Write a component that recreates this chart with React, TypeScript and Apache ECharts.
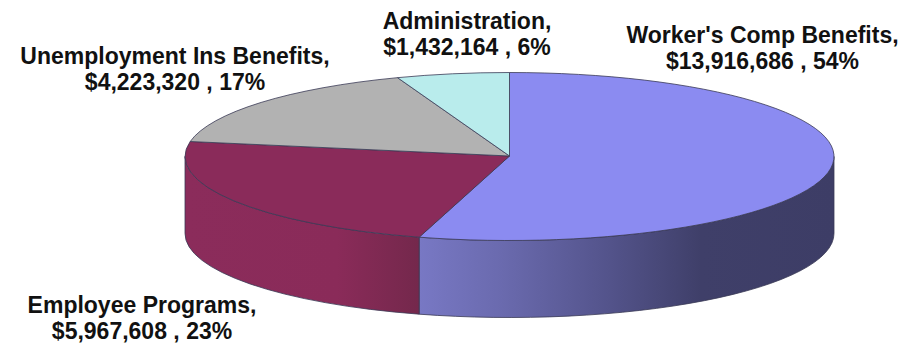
import React, { useEffect, useRef } from "react";
import * as echarts from "echarts";

// Expenditure categories, clockwise from twelve o'clock
const categories = [
  "Worker's Comp Benefits",
  "Employee Programs",
  "Unemployment Ins Benefits",
  "Administration",
];
const amounts = [13916686, 5967608, 4223320, 1432164];
const topColors = ["#8b8bf1", "#8a2b5a", "#b2b2b2", "#b9ecec"];

// Horizontal shading of the visible rim, one set of stops per slice
const rimStops: ({ offset: number; color: string }[] | null)[] = [
  [
    { offset: 0, color: "#7878c4" },
    { offset: 0.2, color: "#6a6aae" },
    { offset: 0.45, color: "#54548c" },
    { offset: 0.68, color: "#3f3f69" },
    { offset: 1, color: "#3d3d66" },
  ],
  [
    { offset: 0, color: "#8b2c5b" },
    { offset: 0.65, color: "#8a2b59" },
    { offset: 1, color: "#74284c" },
  ],
  null,
  null,
];

// Label centres, in the same order as the categories
const labelCentres = [
  [762.5, 48],
  [142, 318],
  [175, 69],
  [467, 34],
];

const CX = 509.5;
const CY = 156.5;
const RX = 324.5;
const RY = 84;
const DEPTH = 77;
const TAU = Math.PI * 2;

const total = amounts.reduce((a, b) => a + b, 0);
const spans = amounts.map((_, i) => {
  const before = amounts.slice(0, i).reduce((a, b) => a + b, 0);
  return [(before / total) * TAU, ((before + amounts[i]) / total) * TAU];
});

// Point on the pie's rim, angle measured clockwise from the top
const rim = (t: number, dy = 0): [number, number] => [
  CX + RX * Math.sin(t),
  CY - RY * Math.cos(t) + dy,
];

const topPath = (t0: number, t1: number) => {
  const [ax, ay] = rim(t0);
  const [bx, by] = rim(t1);
  const large = t1 - t0 > Math.PI ? 1 : 0;
  return `M${CX} ${CY - 0.5}L${ax} ${ay}A${RX} ${RY} 0 ${large} 1 ${bx} ${by}Z`;
};

// The wall under a slice is only visible on the near half of the ellipse
const sidePath = (t0: number, t1: number) => {
  const from = Math.max(t0, Math.PI / 2);
  const to = Math.min(t1, (Math.PI * 3) / 2);
  if (to <= from) return null;
  const [ax, ay] = rim(from);
  const [bx, by] = rim(to);
  const [cx, cy] = rim(to, DEPTH);
  const [dx, dy] = rim(from, DEPTH);
  return {
    d: `M${ax} ${ay}A${RX} ${RY} 0 0 1 ${bx} ${by}L${cx} ${cy}A${RX} ${RY} 0 0 0 ${dx} ${dy}Z`,
    x0: Math.min(ax, bx),
    x1: Math.max(ax, bx),
  };
};

const labelText = (i: number) =>
  `${categories[i]},\n$${amounts[i].toLocaleString("en-US")} , ${Math.round(
    (amounts[i] / total) * 100
  )}%`;

const outline = { stroke: "#3a3a55", lineWidth: 0.8, opacity: 1 };

export default function App() {
  const ref = useRef<HTMLDivElement>(null);

  useEffect(() => {
    const chart = echarts.init(ref.current!, null, { renderer: "svg" });
    chart.setOption({
      animation: false,
      backgroundColor: "#ffffff",
      series: [
        {
          type: "custom",
          coordinateSystem: "none",
          silent: true,
          z: 1,
          data: amounts,
          renderItem: (params: any) => {
            const i = params.dataIndex;
            const side = sidePath(spans[i][0], spans[i][1]);
            const stops = rimStops[i];
            if (!side || !stops) return { type: "group", children: [] };
            return {
              type: "path",
              shape: { pathData: side.d },
              style: {
                fill: new echarts.graphic.LinearGradient(
                  side.x0, 0, side.x1, 0, stops, true
                ),
                ...outline,
              },
            };
          },
        },
        {
          type: "custom",
          coordinateSystem: "none",
          silent: true,
          z: 2,
          data: amounts,
          renderItem: (params: any) => {
            const i = params.dataIndex;
            return {
              type: "path",
              shape: { pathData: topPath(spans[i][0], spans[i][1]) },
              style: { fill: topColors[i], ...outline },
            };
          },
        },
      ],
      graphic: categories.map((_, i) => ({
        type: "text",
        x: labelCentres[i][0],
        y: labelCentres[i][1],
        z: 5,
        silent: true,
        style: {
          text: labelText(i),
          fill: "#111111",
          font: 'bold 23px "Liberation Sans", Arial, sans-serif',
          lineHeight: 26,
          align: "center",
          verticalAlign: "middle",
        },
      })),
    });
    return () => chart.dispose();
  }, []);

  return (
    <div
      ref={ref}
      style={{ position: "fixed", left: 0, top: 0, width: 921, height: 344 }}
    />
  );
}
